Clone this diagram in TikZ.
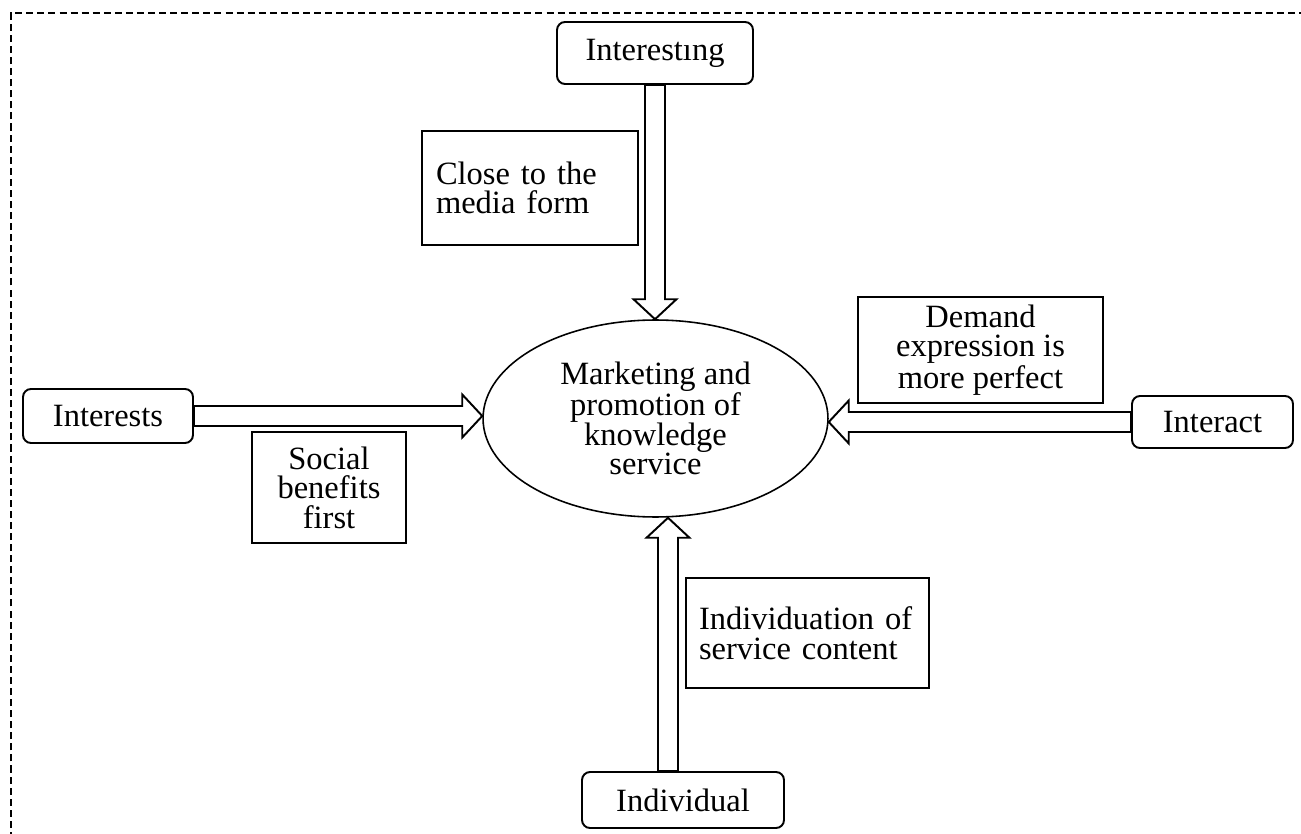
\documentclass[tikz,border=0pt]{standalone}
\usepackage{fontspec}
\setmainfont{Liberation Serif}
\usetikzlibrary{calc,shapes.geometric}

% hollow block arrow from #1 to #2
\newcommand{\hollowarrow}[2]{%
  \coordinate (ha-c) at ($(#2)!0.4cm!(#1)$);
  \draw[hollow] ($(#1)!0.2cm!90:(#2)$) -- ($(ha-c)!0.2cm!90:(#2)$)
    -- ($(ha-c)!0.43cm!90:(#2)$) -- (#2) -- ($(ha-c)!0.43cm!-90:(#2)$)
    -- ($(ha-c)!0.2cm!-90:(#2)$) -- ($(#1)!0.2cm!-90:(#2)$) -- cycle;}

\begin{document}
\begin{tikzpicture}[x=0.02cm,y=-0.02cm,
    font=\fontsize{18.5}{16.8}\selectfont,
    pole/.style={draw,line width=1.1pt,rounded corners=0.16cm,inner sep=0pt},
    note/.style={draw,line width=1.1pt,inner sep=0pt,align=center},
    hollow/.style={draw,line width=1.1pt,fill=white},
    border/.style={line width=0.9pt,dash pattern=on 4pt off 2.3pt}]
  \useasboundingbox (0,0) rectangle (1301,834);
  \draw[border] (11,850) |- (1320,13);

  \node[ellipse,draw,line width=0.9pt,inner sep=0pt,minimum width=6.9cm,minimum height=3.94cm,align=center]
    (mk) at (655.5,418.5) {Marketing and\\promotion of\\knowledge\\service};

  \node[pole,minimum width=3.92cm,minimum height=1.24cm] (interesting) at (655,53) {Interestıng};
  \node[pole,minimum width=3.40cm,minimum height=1.08cm] (interests) at (108,416) {Interests};
  \node[pole,minimum width=3.22cm,minimum height=1.04cm] (interact) at (1212.5,422) {Interact};
  \node[pole,minimum width=4.04cm,minimum height=1.12cm] (individual) at (683,800) {Individual};

  \node[note,align=left,inner xsep=0.28cm,text width=3.76cm,minimum height=2.28cm]
    (close) at (530,188) {Close to the\\media form};
  \node[note,minimum width=3.08cm,minimum height=2.22cm] (social) at (329,487.5) {Social\\benefits\\first};
  \node[note,minimum width=4.90cm,minimum height=2.12cm] (demand) at (980.5,350) {Demand\\expression is\\more perfect};
  \node[note,align=left,inner xsep=0.26cm,text width=4.34cm,minimum height=2.20cm]
    (individ) at (807.5,633) {Individuation of\\service content};

  \coordinate (down-end) at (mk.north -| interesting.south);
  \coordinate (right-end) at (interests.east -| mk.west);
  \coordinate (left-end) at (interact.west -| mk.east);
  \coordinate (up-start) at ([xshift=-0.3cm]individual.north);
  \coordinate (up-end) at (mk.south -| up-start);

  \hollowarrow{interesting.south}{down-end}
  \hollowarrow{interests.east}{right-end}
  \hollowarrow{interact.west}{left-end}
  \hollowarrow{up-start}{up-end}
\end{tikzpicture}
\end{document}
